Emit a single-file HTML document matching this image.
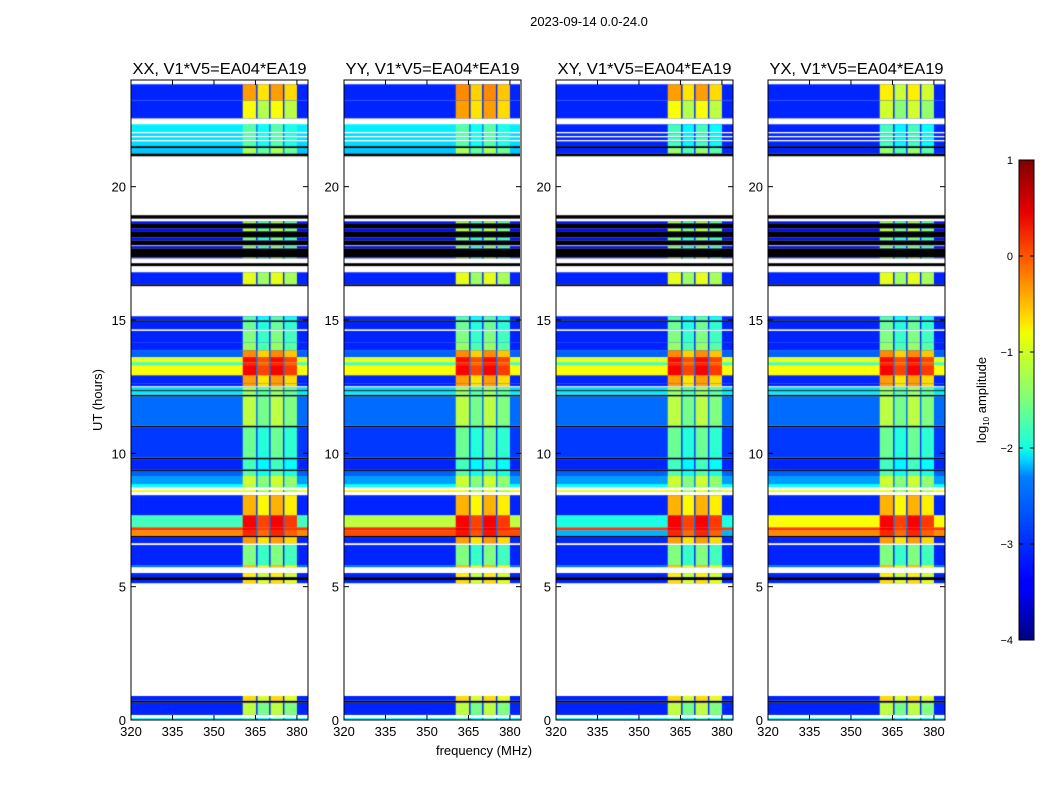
<!DOCTYPE html>
<html><head><meta charset="utf-8">
<style>
body{margin:0;background:#fff;width:1050px;height:800px;overflow:hidden;position:relative;font-family:"Liberation Sans",sans-serif}
canvas{position:absolute}
svg{position:absolute;left:0;top:0}
</style></head>
<body>
<canvas id="c1" width="177" height="640" style="left:131px;top:80px"></canvas>
<canvas id="c2" width="176" height="640" style="left:344px;top:80px"></canvas>
<canvas id="c3" width="177" height="640" style="left:556px;top:80px"></canvas>
<canvas id="c4" width="177" height="640" style="left:768px;top:80px"></canvas>
<svg id="ov" width="1050" height="800">
<defs><linearGradient id="jet" x1="0" y1="1" x2="0" y2="0">
<stop offset="0" stop-color="#000080"/><stop offset="0.11" stop-color="#0000ff"/><stop offset="0.125" stop-color="#0000ff"/>
<stop offset="0.34" stop-color="#0080ff"/><stop offset="0.375" stop-color="#00d4ff"/><stop offset="0.4" stop-color="#14ffe2"/>
<stop offset="0.5" stop-color="#7dff7a"/><stop offset="0.64" stop-color="#f0ff00"/><stop offset="0.66" stop-color="#ffe600"/>
<stop offset="0.8" stop-color="#ff5500"/><stop offset="0.89" stop-color="#e80000"/><stop offset="1" stop-color="#800000"/>
</linearGradient></defs>
<text x="589" y="26" font-size="13" text-anchor="middle">2023-09-14 0.0-24.0</text>
<text transform="translate(102,400) rotate(-90)" font-size="13" text-anchor="middle">UT (hours)</text>
<text x="484" y="755" font-size="13" text-anchor="middle">frequency (MHz)</text>
<rect x="1019" y="160" width="15" height="480" fill="url(#jet)" stroke="#000" stroke-width="1"/>
<text transform="translate(986,400) rotate(-90)" font-size="13" text-anchor="middle">log<tspan font-size="8" dy="3">10</tspan><tspan dy="-3"> amplitude</tspan></text>
<g id="axes"></g>
</svg>
<script>
// shared time rows (hours): start, end, background level, channel level (null = no data, -9 = flagged black)
const rowStart=[0.0,0.19,0.65,0.72,0.9,5.13,5.25,5.36,5.51,5.73,5.81,6.56,6.63,6.86,6.9,7.12,7.23,7.68,8.43,8.55,8.62,8.73,8.85,9.15,9.34,9.4,9.78,9.84,10.98,11.04,12.14,12.2,12.33,12.37,12.48,12.52,12.63,12.93,13.31,13.42,13.61,13.87,14.17,14.59,14.65,14.93,14.99,15.14,16.27,16.34,16.79,17.02,17.13,17.31,17.35,17.69,17.77,17.80,17.99,18.10,18.33,18.44,18.63,18.70,18.80,18.93,21.14,21.25,21.45,21.52,21.7,21.75,21.85,21.9,22.0,22.05,22.34,22.56,23.24,23.84];
const rowEnd  =[0.07,0.65,0.72,0.9,5.13,5.25,5.36,5.51,5.73,5.81,6.56,6.63,6.86,6.9,7.12,7.23,7.68,8.43,8.55,8.62,8.73,8.85,9.15,9.34,9.4,9.78,9.84,10.98,11.04,12.14,12.2,12.33,12.37,12.48,12.52,12.63,12.93,13.31,13.42,13.61,13.87,14.17,14.59,14.65,14.93,14.99,15.14,16.27,16.34,16.79,17.02,17.13,17.31,17.35,17.69,17.77,17.80,17.99,18.10,18.33,18.44,18.63,18.70,18.80,18.93,21.14,21.25,21.45,21.52,21.7,21.75,21.85,21.9,22.0,22.05,22.34,22.56,23.24,23.84,24.0];
const rowBg   =[-2.2,-3.2,-9,-3.2,null,-3.2,-9,-3.2,null,-2.8,-3.2,null,-3.2,-9,-0.3,0.1,-1.8,-3.2,null,-1.0,null,-2.1,-2.6,-2.9,-9,-3.2,-9,-3.1,-9,-2.85,-9,-2.2,-9,-2.3,null,-3.2,-3.2,-0.9,-1.8,-1.0,-2.9,-3.2,-3.2,null,-3.2,-9,-3.2,null,-9,-3.2,null,-9,null,-3.3,-9,-3.3,null,-9,-3.3,-9,-3.3,-9,-3.3,null,-9,null,-9,-2.4,-9,-2.3,null,-2.3,null,-2.3,null,-2.2,null,-3.2,-3.2,null];
const rowBand =[-1.8,-1.2,-9,-0.7,null,-0.7,-9,-0.8,null,-0.6,-1.5,null,-0.4,-9,0.2,0.4,0.4,-0.5,null,-1.0,null,-1.2,-1.1,-1.7,-9,-1.8,-9,-1.6,-9,-1.2,-9,-1.3,-9,-1.3,null,-0.4,-0.4,0.4,0.2,0.35,-0.3,-1.4,-1.5,null,-1.6,-9,-1.7,null,-9,-1.0,null,-9,null,-1.1,-9,-1.4,null,-9,-1.5,-9,-1.2,-9,-1.3,null,-9,null,-9,-1.3,-9,-1.7,null,-1.7,null,-1.7,null,-1.7,null,-0.9,-0.4,null];
// channel sub-band edges (MHz) and level offsets
const bandEdges=[360.4,365.5,370.2,375.2,380.0];
const bandOffset=[0,-0.35,0,-0.3];
// per-panel overrides: [rowIndex, bg, band]
const panelTitles=["XX, V1*V5=EA04*EA19","YY, V1*V5=EA04*EA19","XY, V1*V5=EA04*EA19","YX, V1*V5=EA04*EA19"];
const ovrXX=[];
const ovrYY=[[78,-3.2,-0.3],[77,-3.2,-0.4],[16,-1.2,0.4],[15,0.2,0.5],[14,0.0,0.3],[19,-0.8,-1.0]];
const ovrXY=[[67,-3.2,-1.4],[69,-3.2,-1.8],[71,-3.2,-1.8],[73,-3.2,-1.8],[75,-3.2,-1.8],[16,-2.0,0.4],[14,-2.5,0.2]];
const ovrYX=[[67,-3.2,-1.4],[69,-3.2,-1.8],[71,-3.2,-1.8],[73,-3.2,-1.8],[75,-3.2,-1.8],[78,-3.2,-0.8],[77,-3.2,-1.1],[16,-0.9,0.4]];
const overrides=[ovrXX,ovrYY,ovrXY,ovrYX];
const xTicks=[320,335,350,365,380];
const yTicks=[0,5,10,15,20];
const cbTicks=[1,0,-1,-2,-3,-4];

const F0=320,F1=384,H0=0,H1=24,VMIN=-4,VMAX=1;
function jet(v){
  if(v===-9) return "#000";
  let t=(v-VMIN)/(VMAX-VMIN); t=Math.max(0,Math.min(1,t));
  const c=x=>Math.round(255*Math.max(0,Math.min(1,x)));
  return `rgb(${c(1.5-Math.abs(4*t-3))},${c(1.5-Math.abs(4*t-2))},${c(1.5-Math.abs(4*t-1))})`;
}
const panelX=[131,344,556,768];
const PW=177,PT=80,PH=640;
function drawPanel(p){
  const cv=document.getElementById("c"+(p+1)),ctx=cv.getContext("2d");
  const W=cv.width;
  const xs=f=>(f-F0)/(F1-F0)*PW;
  const ys=h=>PH-(h-H0)/(H1-H0)*PH;
  const bg=rowBg.slice(),bd=rowBand.slice();
  overrides[p].forEach(o=>{bg[o[0]]=o[1];bd[o[0]]=o[2];});
  for(let i=0;i<rowStart.length;i++){
    if(bg[i]===null) continue;
    const y0=ys(rowEnd[i]),y1=ys(rowStart[i]);
    const hgt=Math.max(1,y1-y0);
    ctx.fillStyle=jet(bg[i]);
    ctx.fillRect(0,y0,W,hgt);
    if(bg[i]===-9) continue;
    for(let b=0;b<4;b++){
      const xa=xs(bandEdges[b]),xb=xs(bandEdges[b+1]);
      ctx.fillStyle=jet(bd[i]+bandOffset[b]);
      ctx.fillRect(xa,y0,xb-xa,hgt);
      if(b>0){ctx.fillStyle=jet(Math.min(bg[i],-2.8));ctx.fillRect(xa-0.7,y0,1.4,hgt);}
    }
  }
}
for(let p=0;p<4;p++) drawPanel(p);

const NS="http://www.w3.org/2000/svg";
const axes=document.getElementById("axes");
function mk(tag,attrs,parent){const e=document.createElementNS(NS,tag);for(const k in attrs)e.setAttribute(k,attrs[k]);(parent||axes).appendChild(e);return e;}
for(let p=0;p<4;p++){
  const x0=panelX[p];
  const g=mk("g",{});
  
  
  const fr=mk("rect",{x:x0,y:PT,width:PW,height:PH,fill:"none",stroke:"#000","stroke-width":1},g);
  
  
  const t=mk("text",{x:x0+PW/2,y:74,"font-size":16,"text-anchor":"middle",textLength:174,lengthAdjust:"spacingAndGlyphs"},g);
  t.textContent=panelTitles[p];
  
  
  xTicks.forEach(f=>{
    const x=x0+(f-F0)/(F1-F0)*PW;
    mk("line",{x1:x,x2:x,y1:PT+PH,y2:PT+PH-5,stroke:"#000"},g);
    mk("line",{x1:x,x2:x,y1:PT,y2:PT+5,stroke:"#000"},g);
    const l=mk("text",{x:x,y:736,"font-size":13,"text-anchor":"middle"},g);
    l.textContent=f;
    
    
  });
  yTicks.forEach(h=>{
    const y=PT+PH-(h-H0)/(H1-H0)*PH;
    mk("line",{x1:x0,x2:x0+5,y1:y,y2:y,stroke:"#000"},g);
    mk("line",{x1:x0+PW,x2:x0+PW-5,y1:y,y2:y,stroke:"#000"},g);
    const l=mk("text",{x:x0-5,y:y+5,"font-size":13,"text-anchor":"end"},g);
    l.textContent=h;
    
    
  });
}
cbTicks.forEach(v=>{
  const y=160+(VMAX-v)/(VMAX-VMIN)*480;
  mk("line",{x1:1019,x2:1023,y1:y,y2:y,stroke:"#000"});
  mk("line",{x1:1034,x2:1030,y1:y,y2:y,stroke:"#000"});
  const l=mk("text",{x:1013,y:y+4,"font-size":11,"text-anchor":"end"});
  l.textContent=(v<0?"\u2212":"")+Math.abs(v);
  
  
});
</script>
</body></html>
